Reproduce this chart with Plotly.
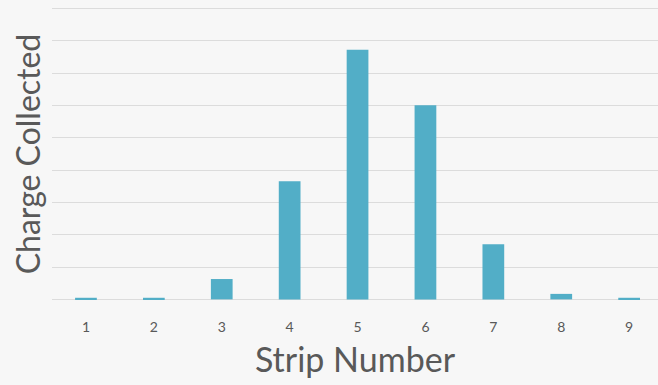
import plotly.graph_objects as go

# Charge collected on each readout strip
strips = [1, 2, 3, 4, 5, 6, 7, 8, 9]
charge = [0.05, 0.05, 0.63, 3.66, 7.73, 6.01, 1.71, 0.17, 0.05]
tick_labels = ["1", "2", "3", "4", "5", "6", "7", "8", "9"]

BAR_COLOR = "#52aec7"
TEXT_COLOR = "#595959"
GRID_COLOR = "#dcdcdc"
BG = "#f7f7f7"
FONT = "Lato, 'Open Sans', sans-serif"

fig = go.Figure(
    go.Bar(
        x=strips,
        y=charge,
        width=0.32,
        marker=dict(color=BAR_COLOR, line=dict(width=0)),
        hoverinfo="x+y",
    )
)

fig.update_layout(
    width=658,
    height=385,
    paper_bgcolor=BG,
    plot_bgcolor=BG,
    margin=dict(l=52, r=0, t=7.4, b=83.9),
    showlegend=False,
    font=dict(family=FONT, color=TEXT_COLOR),
    xaxis=dict(
        range=[0.5, 9.425],
        tickmode="array",
        tickvals=strips,
        ticktext=tick_labels,
        tickfont=dict(size=14, color=TEXT_COLOR),
        ticks="outside",
        ticklen=13,
        tickcolor="rgba(0,0,0,0)",
        showgrid=False,
        zeroline=False,
        showline=False,
        title=dict(text="Strip Number", font=dict(size=34, color=TEXT_COLOR), standoff=14),
    ),
    yaxis=dict(
        range=[-0.05, 9.05],
        dtick=1,
        tick0=0,
        showticklabels=False,
        showgrid=True,
        gridcolor=GRID_COLOR,
        gridwidth=1.3,
        zeroline=False,
        showline=False,
        title=dict(text="Charge Collected", font=dict(size=32, color=TEXT_COLOR), standoff=0),
    ),
)

fig.write_html("out.html")
